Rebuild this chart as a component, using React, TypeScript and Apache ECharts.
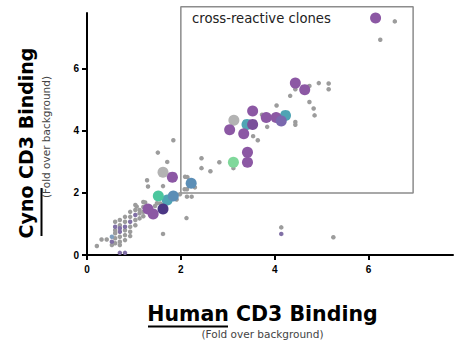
import React, { useEffect, useRef } from "react";
import * as echarts from "echarts";

const tickValues = [0, 2, 4, 6];
const axisMax = 7.8;
const boxCorners = [[2, 2], [6.95, 2], [6.95, 8], [2, 8], [2, 2]];
const boxLabel = "cross-reactive clones";
const xTitleMain = "Human CD3 Binding";
const yTitleMain = "Cyno CD3 Binding";
const subTitle = "(Fold over background)";

const smallGray = [
  [6.56, 7.53], [6.25, 6.94],
  [4.94, 5.54], [5.15, 5.53], [5.15, 5.34], [4.74, 5.45], [4.44, 5.34], [4.33, 5.13],
  [4.74, 4.93], [4.83, 4.72], [4.85, 4.5], [4.04, 4.82], [4.44, 4.29], [4.44, 4.2],
  [3.84, 4.13], [3.73, 4.52], [3.64, 3.7], [3.54, 3.83],
  [3.12, 2.8], [2.82, 2.99], [2.44, 3.12], [2.44, 2.8], [2.63, 2.7],
  [2.14, 2.51], [2.13, 2.12], [2.3, 2.18], [2.13, 1.88], [2.23, 1.88],
  [1.84, 3.7], [1.51, 3.3], [1.71, 3.0], [1.28, 2.41], [1.3, 2.21], [1.62, 2.22],
  [2.08, 2.12], [2.09, 2.52], [1.98, 1.96], [1.91, 1.79], [1.49, 1.67],
  [1.06, 1.56], [1.24, 1.69], [2.12, 1.19], [1.62, 0.68], [1.88, 1.87], [1.6, 1.61],
  [0.21, 0.29], [0.31, 0.5], [0.42, 0.5], [0.53, 0.32],
  [0.6, 1.07], [0.6, 0.8], [0.6, 0.7], [0.6, 0.54], [0.6, 0.38],
  [0.7, 1.13], [0.7, 0.96], [0.7, 0.59], [0.7, 0.43], [0.7, 0.32],
  [0.81, 1.23], [0.81, 1.07], [0.81, 0.8], [0.81, 0.64], [0.81, 0.48],
  [0.92, 1.39], [0.92, 1.23], [0.92, 0.91], [0.92, 0.75], [0.92, 0.61],
  [1.03, 1.61], [1.03, 1.45], [1.03, 1.13], [1.03, 0.96],
  [1.12, 1.45], [1.12, 1.34], [1.12, 1.18],
  [1.2, 1.71], [1.2, 1.55], [1.2, 1.39], [1.2, 1.25],
  [1.45, 1.58], [1.45, 1.39], [1.56, 1.66], [1.67, 1.61],
  [4.14, 0.89], [5.25, 0.57],
];
const smallPurple = [
  [0.6, 0.91], [0.7, 0.86], [0.7, 0.75], [0.81, 0.91], [0.92, 1.07], [1.03, 1.29],
  [0.53, 0.43], [0.7, 0.07], [0.81, 0.07], [4.14, 0.68],
];
const smallBlue = [[0.53, 0.59]];

const purpleClones = [
  [6.15, 7.64], [4.44, 5.54], [4.64, 5.33], [3.82, 4.43], [4.03, 4.43], [3.53, 4.64],
  [3.04, 4.04], [3.34, 3.91], [3.42, 3.31], [3.42, 2.99], [1.82, 2.51],
  [1.3, 1.48], [1.41, 1.32],
];
const grayClones = [[3.13, 4.34], [1.62, 2.67]];
const tealClones = [[4.23, 4.5], [3.41, 4.21], [1.71, 1.77]];
const purpleFront = [[3.53, 4.21]];
const bluePurpleClones = [[4.14, 4.32]];
const darkPurpleClones = [[1.62, 1.48]];
const steelBlueClones = [[2.22, 2.31], [1.84, 1.9]];
const greenClones = [[3.12, 2.99]];
const tealGreenClones = [[1.52, 1.9]];

const FONT = "'Liberation Sans', Arial, sans-serif";
const TFONT = "'DejaVu Sans', sans-serif";

function scatter(data: number[][], color: string, size: number, opacity = 1) {
  return {
    type: "scatter",
    data,
    symbolSize: size,
    itemStyle: { color, opacity },
    silent: true,
  };
}

export default function App() {
  const ref = useRef<HTMLDivElement>(null);
  useEffect(() => {
    if (!ref.current) return;
    const chart = echarts.init(ref.current, undefined, { renderer: "svg" });
    const axisCommon = {
      type: "value",
      min: 0,
      max: axisMax,
      interval: 2,
      axisLine: { show: true, lineStyle: { color: "#000", width: 2 } },
      axisTick: { show: true, length: 5, lineStyle: { color: "#000", width: 2 }, customValues: tickValues },
      axisLabel: { fontFamily: FONT, fontWeight: "bold", fontSize: 10, color: "#000", customValues: tickValues },
      splitLine: { show: false },
    };
    chart.setOption({
      animation: false,
      grid: { left: 87, right: 1, top: 13, bottom: 93, containLabel: false },
      xAxis: { ...axisCommon, axisLabel: { ...axisCommon.axisLabel, margin: 9 } },
      yAxis: { ...axisCommon, axisLabel: { ...axisCommon.axisLabel, margin: 8 } },
      series: [
        {
          type: "line",
          data: boxCorners,
          symbol: "none",
          clip: false,
          silent: true,
          lineStyle: { color: "#8c8c8c", width: 1.5 },
          z: 1,
        },
        scatter(smallGray, "#9c9c9c", 4.5),
        scatter(smallPurple, "#8170a6", 4.5),
        scatter(smallBlue, "#7f9fbf", 4.5),
        scatter(grayClones, "#b3b3b3", 11),
        scatter(tealClones, "#4fa4b4", 11),
        scatter(purpleClones, "#8c58a4", 11),
        scatter(purpleFront, "#7a4f9a", 11),
        scatter(bluePurpleClones, "#7a68ae", 11),
        scatter(darkPurpleClones, "#4b3784", 11),
        scatter(steelBlueClones, "#5b8eb6", 11),
        scatter(greenClones, "#80d89b", 11),
        scatter(tealGreenClones, "#4cc79e", 11),
      ],
      graphic: [
        {
          type: "text",
          left: 192,
          top: 12,
          style: { text: boxLabel, fontFamily: TFONT, fontSize: 13.2, fill: "#222" },
        },
        {
          type: "text",
          x: 262.5,
          y: 314,
          style: {
            text: xTitleMain,
            fontFamily: TFONT,
            fontWeight: "bold",
            fontSize: 20.5,
            fill: "#000",
            textAlign: "center",
            textVerticalAlign: "middle",
          },
        },
        { type: "line", shape: { x1: 148, y1: 326.5, x2: 228, y2: 326.5 }, style: { stroke: "#000", lineWidth: 2 } },
        {
          type: "text",
          x: 262.5,
          y: 334,
          style: {
            text: subTitle,
            fontFamily: TFONT,
            fontSize: 10.5,
            fill: "#444",
            textAlign: "center",
            textVerticalAlign: "middle",
          },
        },
        {
          type: "text",
          x: 26,
          y: 143,
          rotation: Math.PI / 2,
          style: {
            text: yTitleMain,
            fontFamily: TFONT,
            fontWeight: "bold",
            fontSize: 19,
            fill: "#000",
            textAlign: "center",
            textVerticalAlign: "middle",
          },
        },
        { type: "line", shape: { x1: 41.5, y1: 188, x2: 41.5, y2: 236 }, style: { stroke: "#000", lineWidth: 2 } },
        {
          type: "text",
          x: 46,
          y: 137,
          rotation: Math.PI / 2,
          style: {
            text: subTitle,
            fontFamily: TFONT,
            fontSize: 10.5,
            fill: "#444",
            textAlign: "center",
            textVerticalAlign: "middle",
          },
        },
      ],
    });
    return () => chart.dispose();
  }, []);
  return <div ref={ref} style={{ width: 454, height: 348, position: "absolute", left: 0, top: 0 }} />;
}
